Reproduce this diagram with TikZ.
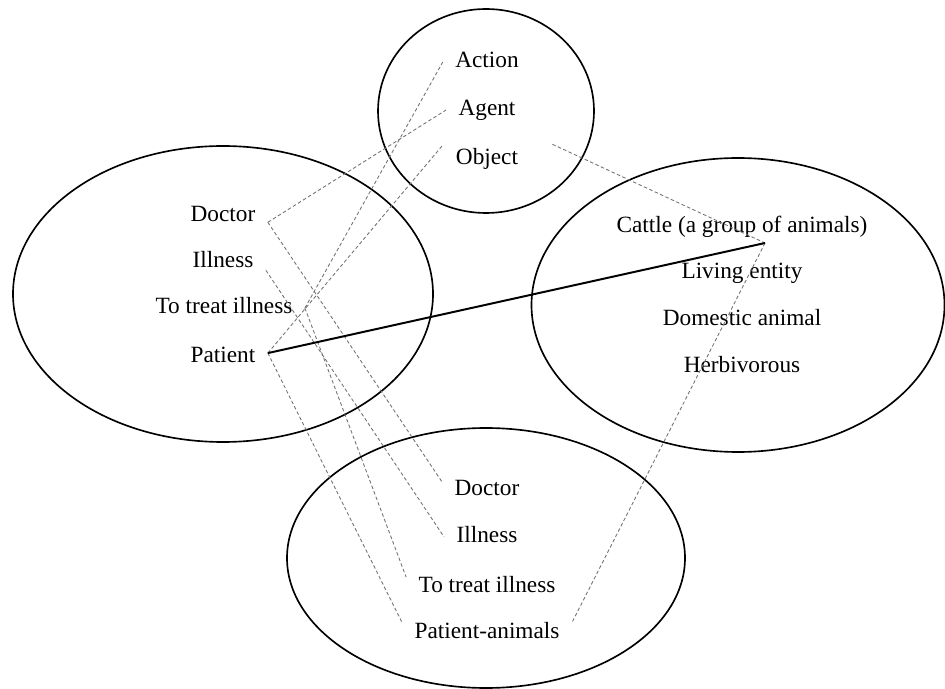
\documentclass[tikz,border=0pt]{standalone}
\usepackage{fontspec}
\setmainfont{Liberation Serif}
\usetikzlibrary{shapes.geometric}

\begin{document}
\begin{tikzpicture}[x=0.16mm, y=-0.16mm,
		oval/.style={draw, ellipse, line width=0.75pt, inner sep=0pt},
		term/.style={font=\fontsize{10.6}{12}\selectfont, inner xsep=5.5pt, inner ysep=2pt, text height=7pt, text depth=2pt},
		link/.style={draw=black!55, line width=0.4pt, dash pattern=on 1.6pt off 1.1pt},
	]
	\useasboundingbox (0,0) rectangle (945,689);

	% sets
	\node[oval, minimum width=34.56mm, minimum height=32.64mm] (frame) at (486,111) {};
	\node[oval, minimum width=67.2mm, minimum height=47.36mm] (medic) at (223,294) {};
	\node[oval, minimum width=66.08mm, minimum height=47.04mm] (herd) at (738,305) {};
	\node[oval, minimum width=63.68mm, minimum height=41.6mm] (vet) at (486,558) {};

	% frame
	\node[term] (act) at (487,62) {Action};
	\node[term] (agt) at (487,110) {Agent};
	\node[term] (obj) at (487,159) {Object};

	% human medicine
	\node[term] (ldoc) at (223,216) {Doctor};
	\node[term] (lill) at (223,262) {Illness};
	\node[term] (ltreat) at (224,308) {To treat illness};
	\node[term] (lpat) at (223,357) {Patient};

	% cattle
	\node[term] (cattle) at (742,227) {Cattle (a group of animals)};
	\node[term] (living) at (742,273) {Living entity};
	\node[term] (domestic) at (742,320) {Domestic animal};
	\node[term] (herb) at (742,367) {Herbivorous};
	\coordinate (hub) at (765,243);

	% veterinary
	\node[term] (bdoc) at (487,490) {Doctor};
	\node[term] (bill) at (487,537) {Illness};
	\node[term] (btreat) at (487,587) {To treat illness};
	\node[term] (bpat) at (487,633) {Patient-animals};

	% Dashed lines
	\path[link] (ldoc.-8) -- (agt.west);
	\path[link] (ldoc.-8) -- (bdoc.170);
	\path[link] (lill.-11) -- (bill.west);
	\path[link] (ltreat.east) -- (act.west);
	\path[link] (ltreat.east) -- (btreat.173);
	\path[link] (lpat.5) -- (obj.north west);
	\path[link] (lpat.5) -- (bpat.173);
	\path[link] ([xshift=3.5mm]obj.north east) -- (hub);
	\path[link] (hub) -- (bpat.7);

	\draw[line width=0.9pt] (lpat.5) -- (hub);
\end{tikzpicture}
\end{document}
